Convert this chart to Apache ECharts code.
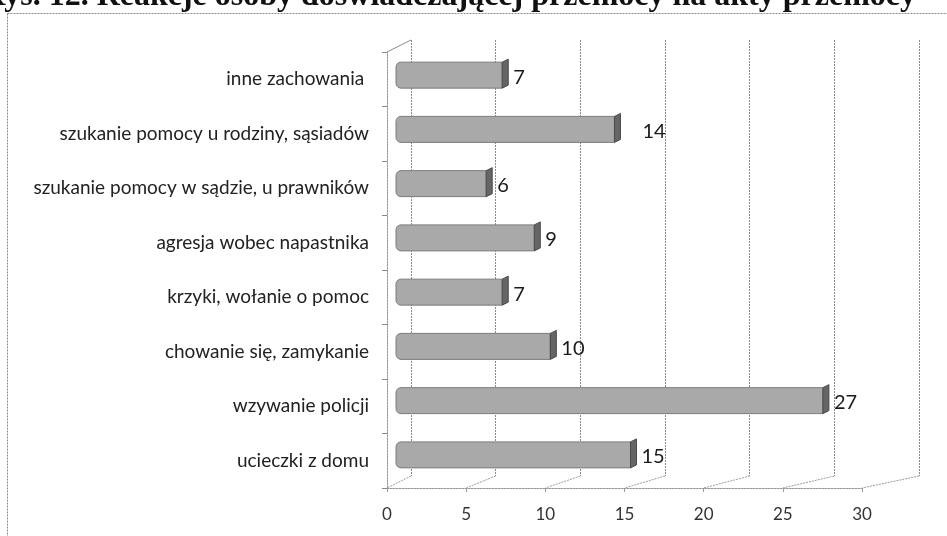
<!DOCTYPE html>
<html>
<head>
<meta charset="utf-8">
<script src="https://cdn.jsdelivr.net/npm/echarts@6/dist/echarts.min.js"></script>
<style>
  html, body { margin: 0; padding: 0; background: #fff; }
  #chart { width: 947px; height: 536px; }
</style>
</head>
<body>
<div id="chart"></div>
<script>
// kategorie od dołu osi (ECharts rysuje pierwszą kategorię na dole)
const categories = [
  'ucieczki z domu',
  'wzywanie policji',
  'chowanie się, zamykanie',
  'krzyki, wołanie o pomoc',
  'agresja wobec napastnika',
  'szukanie pomocy w sądzie, u prawników',
  'szukanie pomocy u rodziny, sąsiadów',
  'inne zachowania '
];
const values = [15, 27, 10, 7, 9, 6, 14, 7];
const xTicks = [0, 5, 10, 15, 20, 25, 30];
const titleText = 'Rys. 12. Reakcje osoby doświadczającej przemocy na akty przemocy';

let chartDom = document.getElementById('chart');
let myChart = echarts.init(chartDom, null, { renderer: 'canvas' });

const labelFont = 'Lato, "Open Sans", sans-serif';

let option = {
  animation: false,
  grid: [
    // 0: słupki (środek "głębi")
    { left: 396, right: 70, top: 48, bottom: 54 },
    // 1: tylna ściana z liniami siatki
    { left: 411, right: 28, top: 40, bottom: 60 },
    // 2: przednia oś z opisami
    { left: 387, right: 85, top: 52, bottom: 48 }
  ],
  xAxis: [
    {
      gridIndex: 0, type: 'value', min: 0, max: 30, interval: 5,
      show: false
    },
    {
      gridIndex: 1, type: 'value', min: 0, max: 30, interval: 5,
      axisLine: { show: false }, axisTick: { show: false }, axisLabel: { show: false },
      splitLine: { show: true, lineStyle: { color: '#8a8a8a', width: 1, type: [2, 1] } }
    },
    {
      gridIndex: 2, type: 'value', min: 0, max: 30, interval: 5,
      axisLine: { show: true, lineStyle: { color: '#999', width: 1, type: [2, 1] } },
      axisTick: { show: true, length: 4, inside: false, lineStyle: { color: '#999' } },
      axisLabel: {
        margin: 18, fontSize: 17, color: '#333', fontFamily: labelFont
      },
      splitLine: { show: false }
    }
  ],
  yAxis: [
    {
      gridIndex: 0, type: 'category', data: categories, show: false
    },
    {
      gridIndex: 1, type: 'category', data: categories, show: false
    },
    {
      gridIndex: 2, type: 'category', data: categories,
      axisLine: { show: true, lineStyle: { color: '#999', width: 1, type: [2, 1] } },
      axisTick: { show: true, length: 5, alignWithLabel: false, lineStyle: { color: '#888' } },
      axisLabel: {
        margin: 18, fontSize: 19, color: '#222', fontFamily: labelFont,
        padding: [5, 0, 0, 0]
      },
      splitLine: { show: false }
    }
  ],
  series: [
    {
      name: 'reakcje',
      type: 'custom',
      xAxisIndex: 0,
      yAxisIndex: 0,
      data: values.map(function (v, i) { return [v, i]; }),
      encode: { x: 0, y: 1 },
      renderItem: function (params, api) {
        const v = api.value(0);
        const i = api.value(1);
        const start = api.coord([0, i]);
        const end = api.coord([v, i]);
        const h = 26;
        const cap = 6;
        const y0 = start[1] - h / 2;
        const x0 = start[0];
        const x1 = end[0];
        // "14" w oryginale jest odsunięte dalej w prawo
        const extra = (v === 14) ? 17 : 0;
        return {
          type: 'group',
          children: [
            {
              type: 'rect',
              shape: { x: x0, y: y0, width: x1 - x0 - cap, height: h, r: [5, 0, 0, 5] },
              style: { fill: '#a9a9a9', stroke: '#7d7d7d', lineWidth: 1 }
            },
            {
              type: 'polygon',
              shape: {
                points: [
                  [x1 - cap, y0],
                  [x1, y0 - 3],
                  [x1, y0 + h - 3],
                  [x1 - cap, y0 + h]
                ]
              },
              style: { fill: '#656565', stroke: '#4a4a4a', lineWidth: 1 }
            },
            {
              type: 'text',
              style: {
                text: String(v),
                x: x1 + 5 + extra,
                y: start[1] + 2,
                verticalAlign: 'middle',
                align: 'left',
                fill: '#1a1a1a',
                fontSize: 20,
                fontFamily: labelFont
              }
            }
          ]
        };
      }
    }
  ],
  graphic: [
    {
      type: 'rect',
      shape: { x: 7.5, y: 13.5, width: 1000, height: 600 },
      style: { fill: 'none', stroke: '#8c8c8c', lineWidth: 1, lineDash: [2, 1] },
      z: -10
    },
    {
      type: 'text',
      style: {
        text: titleText,
        x: 916,
        y: 13,
        align: 'right',
        verticalAlign: 'bottom',
        fontSize: 32,
        fontWeight: 'bold',
        fontFamily: '"Liberation Serif", "DejaVu Serif", serif',
        fill: '#111'
      },
      z: 10
    }
  ]
};

option && myChart.setOption(option);

// podłoga i lewa ściana w "3D": łączymy linie tylnej ściany z przednią osią
function drawFloor() {
  const lines = [];
  const grid1 = myChart.getModel().getComponent('grid', 1).coordinateSystem.getRect();
  const grid2 = myChart.getModel().getComponent('grid', 2).coordinateSystem.getRect();
  const yBack = grid1.y + grid1.height;
  const yFront = grid2.y + grid2.height;
  xTicks.forEach(function (t) {
    const xb = myChart.convertToPixel({ xAxisIndex: 1 }, t);
    const xf = myChart.convertToPixel({ xAxisIndex: 2 }, t);
    lines.push({
      type: 'line',
      shape: { x1: xb, y1: yBack, x2: xf, y2: yFront },
      style: { stroke: '#9a9a9a', lineWidth: 1, lineDash: [2, 1] }
    });
  });
  // górna przekątna lewej ściany
  lines.push({
    type: 'line',
    shape: {
      x1: grid2.x, y1: grid2.y,
      x2: myChart.convertToPixel({ xAxisIndex: 1 }, 0), y2: grid1.y
    },
    style: { stroke: '#888', lineWidth: 1 }
  });
  myChart.setOption({ graphic: option.graphic.concat(lines) });
}
drawFloor();
</script>
</body>
</html>
